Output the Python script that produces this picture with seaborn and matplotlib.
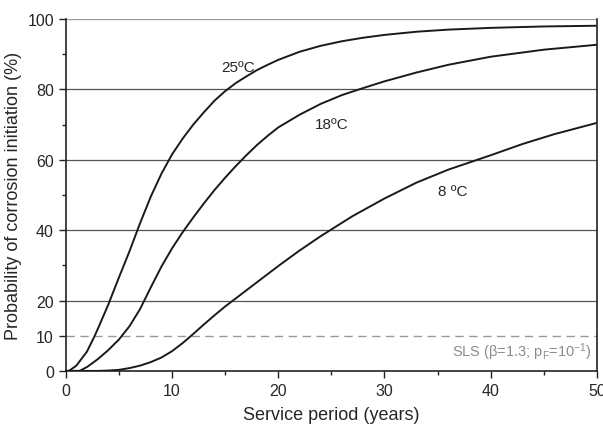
import numpy as np
import pandas as pd
import matplotlib
matplotlib.use("Agg")
import matplotlib.pyplot as plt
import seaborn as sns

# dados (anos, %)
x_25 = [0, 0.3, 1, 2, 2.7, 3, 4, 5, 6, 7, 8, 9, 10, 11, 12, 13, 14, 15, 16, 17, 18, 19, 20,
        22, 24, 26, 28, 30, 33, 36, 40, 45, 50]
y_25 = [0, 0, 1.5, 5.5, 9.8, 11.8, 18.8, 26.5, 34, 42, 49.5, 56, 61.5, 66, 70, 73.5, 76.8, 79.5,
        81.8, 83.7, 85.5, 87, 88.4, 90.7, 92.4, 93.7, 94.7, 95.5, 96.4, 97, 97.5, 97.9, 98.1]

x_18 = [0, 1.3, 2, 3, 4, 5, 6, 7, 8, 9, 10, 11, 12, 13, 14, 15, 16, 17, 18, 19, 20,
        22, 24, 26, 28, 30, 33, 36, 40, 45, 50]
y_18 = [0, 0, 1.1, 3.3, 5.9, 8.9, 12.7, 17.6, 23.7, 29.6, 34.8, 39.4, 43.6, 47.6, 51.4, 54.9, 58.2,
        61.3, 64.2, 66.8, 69.2, 72.8, 75.9, 78.4, 80.4, 82.3, 84.8, 87, 89.3, 91.3, 92.7]

x_8 = [0, 3, 4, 5, 6, 7, 8, 9, 10, 11, 12, 13, 14, 15, 16, 17, 18, 19, 20, 22, 24, 25, 27,
       30, 33, 36, 40, 43, 46, 50]
y_8 = [0, 0, 0.1, 0.3, 0.8, 1.5, 2.5, 3.8, 5.6, 7.9, 10.5, 13.2, 15.8, 18.3, 20.6, 22.9, 25.2,
       27.5, 29.8, 34.2, 38.3, 40.2, 44, 49, 53.5, 57.2, 61.3, 64.5, 67.3, 70.5]

labels = ["25ºC", "18ºC", "8 ºC"]
grid_levels = [20, 40, 60, 80, 100]
sls_level = 10

df = pd.concat([
    pd.DataFrame({"t": x_25, "p": y_25, "temp": labels[0]}),
    pd.DataFrame({"t": x_18, "p": y_18, "temp": labels[1]}),
    pd.DataFrame({"t": x_8, "p": y_8, "temp": labels[2]}),
])

sns.set_style("ticks")
plt.rcParams["font.family"] = ["Liberation Sans", "DejaVu Sans"]
plt.rcParams["mathtext.fontset"] = "custom"
plt.rcParams["mathtext.rm"] = "Liberation Sans"
plt.rcParams["mathtext.it"] = "Liberation Sans"

fig = plt.figure(figsize=(6.03, 4.27), dpi=100)
ax = fig.add_axes([0.109, 0.129, 0.881, 0.824])

# linhas de grade horizontais e limite SLS
for g in grid_levels:
    ax.axhline(g, color="#555555" if g < 100 else "#999999", lw=0.9, zorder=1)
ax.axhline(sls_level, color="#999999", lw=1.0, ls=(0, (6, 4)), zorder=1)

sns.lineplot(data=df, x="t", y="p", hue="temp", palette=["#1a1a1a"] * 3,
             legend=False, lw=1.4, ax=ax, zorder=3)

ax.text(16.2, 86.5, labels[0], fontsize=11, ha="center", va="center")
ax.text(25.0, 70.2, labels[1], fontsize=11, ha="center", va="center")
ax.text(36.4, 51, labels[2], fontsize=11, ha="center", va="center")
ax.text(49.5, 2.5, r"SLS ($\beta$=1.3; p$_F$=10$^{-1}$)", fontsize=10.5,
        color="#8c8c8c", ha="right", va="bottom")

ax.set_xlim(0, 50)
ax.set_ylim(0, 100)
ax.set_xticks([0, 10, 20, 30, 40, 50])
ax.set_xticks([5, 15, 25, 35, 45], minor=True)
ax.set_yticks([0, 10, 20, 40, 60, 80, 100])
ax.set_yticks([30, 50, 70, 90], minor=True)
ax.tick_params(which="major", direction="out", length=5, width=1, labelsize=11.5, color="#222222")
ax.tick_params(which="minor", direction="out", length=3, width=1, color="#222222")

ax.spines["top"].set_visible(False)
for s in ["left", "bottom", "right"]:
    ax.spines[s].set_color("#222222")
    ax.spines[s].set_linewidth(1.2)

ax.set_xlabel("Service period (years)", fontsize=13, labelpad=6)
ax.set_ylabel("Probability of corrosion initiation (%)", fontsize=13, labelpad=4)

fig.savefig("out.png", dpi=100)
